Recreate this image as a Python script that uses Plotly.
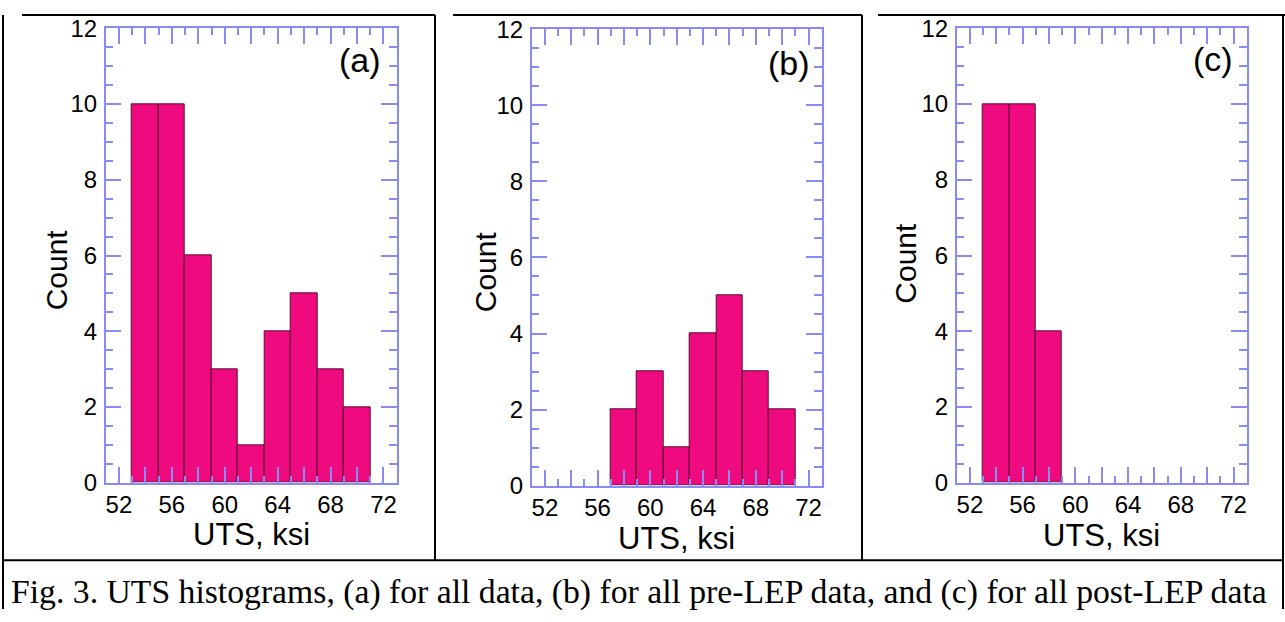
import plotly.graph_objects as go

W, H = 1285, 622

# ---- data ----
bin_width = 2
bins_a = [53, 55, 57, 59, 61, 63, 65, 67, 69]   # left bin edges, ksi
counts_a = [10, 10, 6, 3, 1, 4, 5, 3, 2]
bins_b = [57, 59, 61, 63, 65, 67, 69]
counts_b = [2, 3, 1, 4, 5, 3, 2]
bins_c = [53, 55, 57]
counts_c = [10, 10, 4]

x_tickvals = [52, 54, 56, 58, 60, 62, 64, 66, 68, 70, 72]
x_ticktext = ["52", "", "56", "", "60", "", "64", "", "68", "", "72"]
y_tickvals = [0, 2, 4, 6, 8, 10, 12]
panel_labels = ["(a)", "(b)", "(c)"]
x_title = "UTS, ksi"
y_title = "Count"
caption = "Fig. 3. UTS histograms, (a) for all data, (b) for all pre-LEP data, and (c) for all post-LEP data"

# ---- layout geometry (pixels) ----
frames_x = [(105.7, 396.7), (531.7, 821.7), (956.7, 1246.7)]
frames_y = [(15, 490), (16, 493), (15, 490)]
count_pos = [(56, 268), (485, 270), (906, 261)]
uts_y = [544, 548, 545]
label_pos = [(383, 48), (811.5, 51), (1235, 47)]
top_y = 1
hline_y = 571
caption_y = 604

def px(x):
    return x / W

def py(y):
    return 1 - y / H

BAR = "#F00A80"
BAR_LINE = "#5a0a34"
AX = "#8A8AF4"
FONT = "Liberation Sans"

fig = go.Figure()
series = [(bins_a, counts_a), (bins_b, counts_b), (bins_c, counts_c)]
for i, (edges, counts) in enumerate(series):
    centers = [e + bin_width / 2 for e in edges]
    fig.add_trace(go.Bar(
        x=centers, y=counts, width=bin_width,
        marker=dict(color=BAR, line=dict(color=BAR_LINE, width=1)),
        xaxis="x" if i == 0 else f"x{i+1}",
        yaxis="y" if i == 0 else f"y{i+1}",
        showlegend=False, hoverinfo="x+y",
    ))

layout = dict(
    width=W, height=H,
    margin=dict(l=0, r=0, t=0, b=0),
    paper_bgcolor="white", plot_bgcolor="white",
    bargap=0,
    font=dict(family=FONT, color="black"),
)

for i in range(3):
    xl, xr = frames_x[i]
    yt, yb = frames_y[i]
    xk = "xaxis" if i == 0 else f"xaxis{i+1}"
    yk = "yaxis" if i == 0 else f"yaxis{i+1}"
    xa = "x" if i == 0 else f"x{i+1}"
    ya = "y" if i == 0 else f"y{i+1}"
    layout[xk] = dict(
        domain=[px(xl), px(xr)], anchor=ya, range=[51, 73],
        tickmode="array", tickvals=x_tickvals, ticktext=x_ticktext,
        ticks="inside", ticklen=16, tickwidth=1.5, tickcolor=AX,
        minor=dict(dtick=1, tick0=0, ticks="inside", ticklen=7, tickwidth=1.5, tickcolor=AX),
        showline=True, linecolor=AX, linewidth=1.5, mirror="ticks",
        showgrid=False, zeroline=False,
        tickfont=dict(family=FONT, size=24, color="black"),
        ticklabelstandoff=0,
        fixedrange=True,
    )
    layout[yk] = dict(
        domain=[py(yb), py(yt)], anchor=xa, range=[0, 12],
        tickmode="array", tickvals=y_tickvals,
        ticks="inside", ticklen=16, tickwidth=1.5, tickcolor=AX,
        minor=dict(dtick=0.5, tick0=0, ticks="inside", ticklen=8, tickwidth=1.5, tickcolor=AX),
        showline=True, linecolor=AX, linewidth=1.5, mirror="ticks",
        showgrid=False, zeroline=False,
        tickfont=dict(family=FONT, size=24, color="black"),
        ticklabelstandoff=2,
        fixedrange=True,
    )

annotations = []
for i in range(3):
    xl, xr = frames_x[i]
    cx, cy = count_pos[i]
    annotations.append(dict(text=y_title, x=px(cx), y=py(cy), xref="paper", yref="paper",
                            textangle=-90, showarrow=False, font=dict(family=FONT, size=30, color="black"),
                            xanchor="center", yanchor="middle"))
    annotations.append(dict(text=x_title, x=px((xl + xr) / 2), y=py(uts_y[i]), xref="paper", yref="paper",
                            showarrow=False, font=dict(family=FONT, size=31, color="black"),
                            xanchor="center", yanchor="middle"))
    lx, ly = label_pos[i]
    annotations.append(dict(text=panel_labels[i], x=px(lx), y=py(ly), xref="paper", yref="paper",
                            showarrow=False, font=dict(family=FONT, size=34, color="black"),
                            xanchor="right", yanchor="middle"))
annotations.append(dict(text=caption, x=px(9), y=py(caption_y), xref="paper", yref="paper",
                        showarrow=False, font=dict(family="Liberation Serif", size=33.7, color="black"),
                        xanchor="left", yanchor="middle"))
layout["annotations"] = annotations

# ---- table borders ----
def line(x0, y0, x1, y1, w=2):
    return dict(type="line", xref="paper", yref="paper", x0=px(x0), y0=py(y0), x1=px(x1), y1=py(y1),
                line=dict(color="black", width=w))

shapes = [
    line(22, top_y, 435, top_y), line(453, top_y, 862, top_y), line(878, top_y, 1285, top_y),
    line(3, top_y, 3, 622), line(435, top_y, 435, hline_y), line(862, top_y, 862, hline_y),
    line(1283, top_y, 1283, 622),
    line(3, hline_y, 1283, hline_y),
]
layout["shapes"] = shapes

fig.update_layout(**layout)
fig.write_html("out.html")
